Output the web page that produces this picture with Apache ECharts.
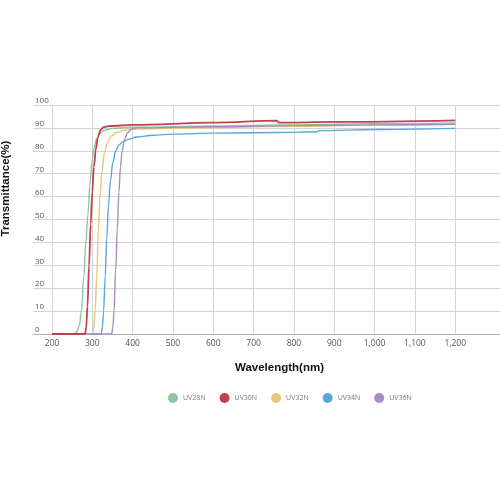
<!DOCTYPE html>
<html><head><meta charset="utf-8">
<script src="https://cdn.jsdelivr.net/npm/echarts@6/dist/echarts.min.js"></script>
<style>html,body{margin:0;padding:0;background:#fff}#c{width:500px;height:500px}</style>
</head><body><div id="c"></div>
<script>
const seriesNames = ['UV28N', 'UV30N', 'UV32N', 'UV34N', 'UV36N'];
const xTicks = [200, 300, 400, 500, 600, 700, 800, 900, 1000, 1100, 1200];
const uv28n = [[200,0],[255,0],[262,1],[268,4],[273,10],[279,25],[284,40],[289,52],[294,65],[299,75],[304,81],[310,85],[318,87.5],[330,89],[350,89.8],[400,90.3],[600,90.8],[760,91.3],[1000,91.8],[1200,92.2]];
const uv30n = [[200,0],[282,0],[285,3],[288,12],[292,30],[296,48],[300,62],[304,73],[309,81],[314,86],[320,89],[328,90.3],[340,90.8],[400,91.3],[600,92.3],[758,93.2],[762,92.3],[900,92.6],[1200,93.3]];
const uv32n = [[200,0],[300,0],[303,2],[307,10],[311,25],[315,45],[319,60],[324,71],[330,79],[338,84],[348,86.5],[360,88],[380,89],[400,89.5],[600,90.2],[800,90.7],[1000,91.2],[1200,91.6]];
const uv34n = [[200,0],[322,0],[325,3],[328,10],[332,25],[336,42],[340,56],[345,67],[351,75],[358,80],[366,82.5],[376,84],[390,85],[410,86],[450,86.8],[500,87.3],[600,87.7],[760,88],[858,88.3],[862,88.8],[1000,89.3],[1200,89.8]];
const uv36n = [[200,0],[348,0],[351,3],[354,10],[358,28],[362,46],[366,62],[370,73],[374,80],[380,85],[388,88],[398,89.5],[410,90],[600,90.5],[800,91],[1000,91.3],[1200,91.6]];
const colors = ['#8fc4a3', '#c0424f', '#e8c774', '#58a8d6', '#a58cc4'];
const allData = [uv28n, uv30n, uv32n, uv34n, uv36n];
const zs = [3, 6, 4, 2, 5];

const chart = echarts.init(document.getElementById('c'), null, {renderer: 'canvas'});
chart.setOption({
  animation: false,
  backgroundColor: '#fff',
  grid: {left: 33, right: 0, top: 105, bottom: 166, containLabel: false, outerBoundsMode: 'none'},
  xAxis: {
    type: 'value', min: 153, max: 1311,
    axisLine: {show: true, lineStyle: {color: '#b0b0b0', width: 1}},
    axisTick: {show: false, customValues: xTicks},
    axisLabel: {customValues: xTicks, margin: 5, fontSize: 8.5, color: '#555', fontFamily: 'Open Sans',
      formatter: v => v >= 1000 ? (Math.floor(v/1000) + ',' + String(v%1000).padStart(3,'0')) : String(v)},
    splitLine: {show: true, lineStyle: {color: '#d4d4d4', width: 1}},
    name: 'Wavelength(nm)', nameLocation: 'middle', nameGap: 28,
    nameTextStyle: {fontSize: 11.5, fontWeight: 'bold', color: '#111', fontFamily: 'Liberation Sans', padding: [0, 0, 0, 26]}
  },
  yAxis: {
    type: 'value', min: 0, max: 100, interval: 10,
    axisLine: {show: false}, axisTick: {show: false},
    axisLabel: {inside: true, align: 'left', verticalAlign: 'bottom', margin: 2, fontSize: 8, color: '#555', fontFamily: 'Open Sans'},
    splitLine: {show: true, lineStyle: {color: '#d4d4d4', width: 1}},
    name: 'Transmittance(%)', nameLocation: 'middle', nameGap: 21, nameRotate: 90,
    nameTextStyle: {fontSize: 11.5, fontWeight: 'bold', color: '#111', fontFamily: 'Liberation Sans', padding: [0, 0, 0, 62]}
  },
  legend: {
    data: seriesNames, left: 163, top: 388, icon: 'circle', itemWidth: 10, itemHeight: 10, itemGap: 14,
    textStyle: {fontSize: 7, color: '#777', fontFamily: 'Open Sans'}
  },
  series: seriesNames.map((n, i) => ({
    name: n, type: 'line', data: allData[i], color: colors[i], z: zs[i],
    showSymbol: false, smooth: 0.35, smoothMonotone: 'x',
    lineStyle: {width: i === 1 ? 1.8 : 1.4, color: colors[i]}
  }))
});
</script></body></html>
